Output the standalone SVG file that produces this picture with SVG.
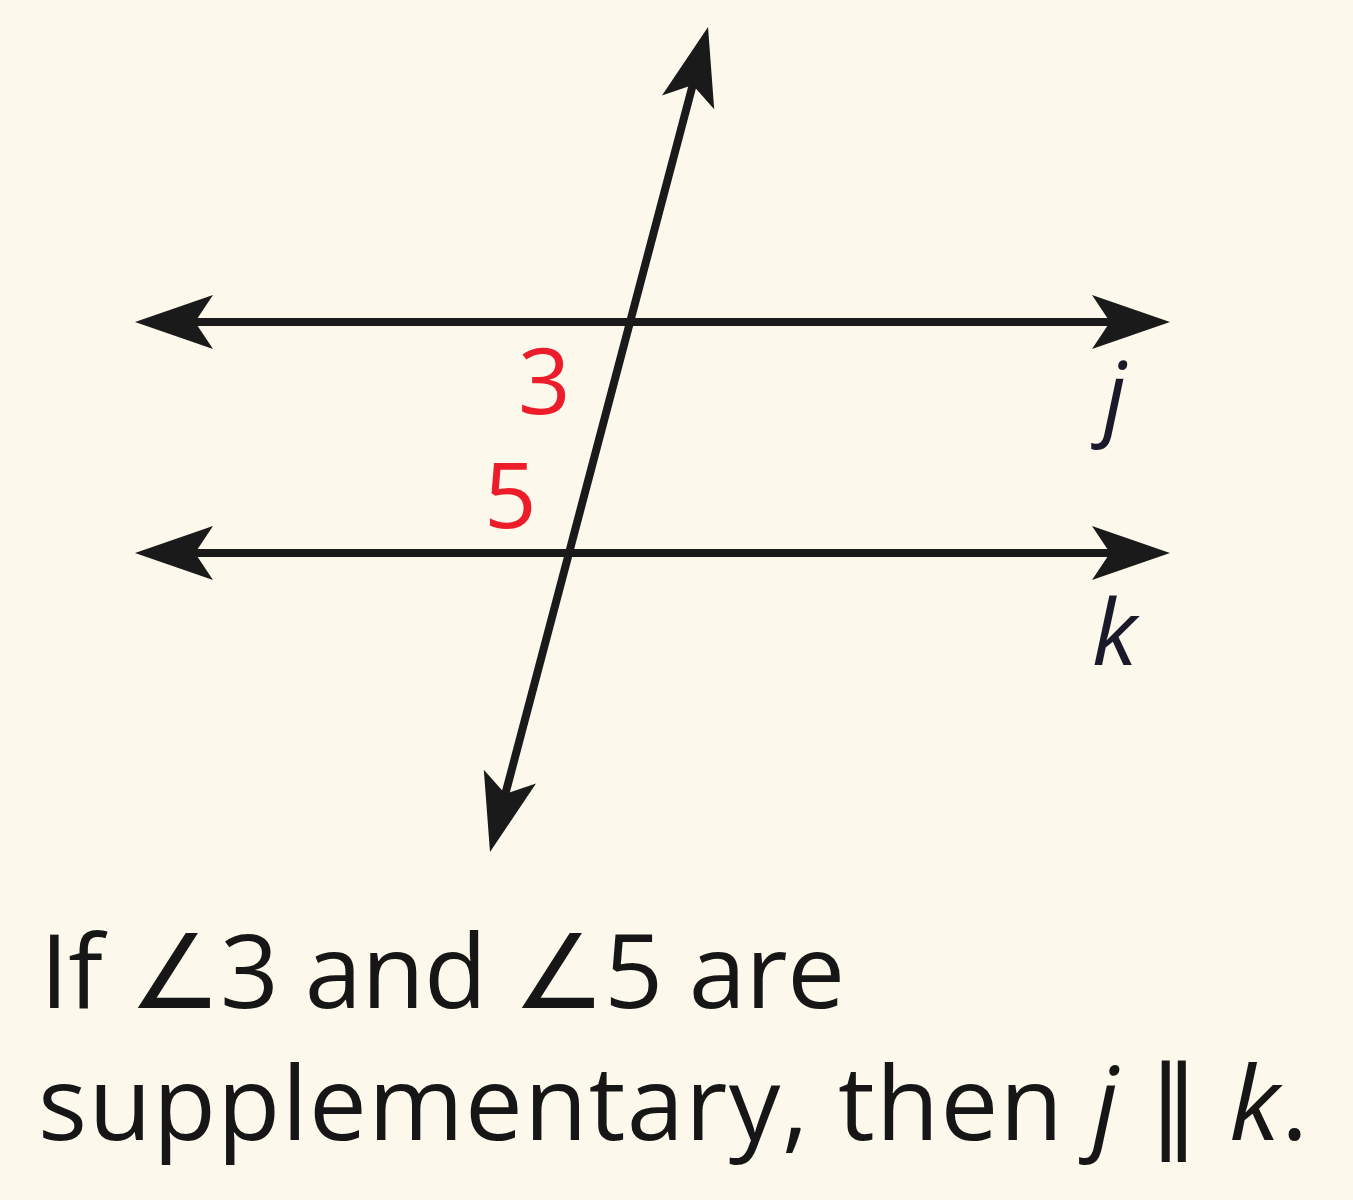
<svg xmlns="http://www.w3.org/2000/svg" width="1353" height="1200" viewBox="0 0 1353 1200">
<style>
.ln{stroke:#1a1a1a;stroke-width:8;fill:none;marker-end:url(#ah);marker-start:url(#ahs)}
.num{font-family:"Open Sans","Noto Sans",sans-serif;font-size:92px;fill:#ec1c2b}
.var{font-family:"Open Sans","Noto Sans",sans-serif;font-size:92px;font-style:italic;fill:#1a1a2a}
.cap{font-family:"Open Sans","Noto Sans",sans-serif;font-size:103px;fill:#161616}
</style>
<defs>
<marker id="ah" markerUnits="userSpaceOnUse" orient="auto" refX="0" refY="0" markerWidth="200" markerHeight="200" viewBox="-100 -100 200 200" overflow="visible">
<path d="M40,0 L-38,-27 L-20,0 L-38,27 Z" fill="#1a1a1a"/>
</marker>
<marker id="ahs" markerUnits="userSpaceOnUse" orient="auto-start-reverse" refX="0" refY="0" markerWidth="200" markerHeight="200" viewBox="-100 -100 200 200" overflow="visible">
<path d="M40,0 L-38,-27 L-20,0 L-38,27 Z" fill="#1a1a1a"/>
</marker>
</defs>
<rect width="1353" height="1200" fill="#fcf8ec"/>
<g id="connectors">
<line id="line-j" class="ln" x1="175" y1="322" x2="1130" y2="322"/>
<line id="line-k" class="ln" x1="175" y1="553" x2="1130" y2="553"/>
<line id="transversal" class="ln" x1="500.2" y1="813.3" x2="697.8" y2="65.7"/>
</g>
<g id="label-3"><text class="num" x="518" y="414">3</text></g>
<g id="label-5"><text class="num" x="484" y="528">5</text></g>
<g id="label-j"><text class="var" x="1103" y="428">j</text></g>
<g id="label-k"><text class="var" x="1092" y="665">k</text></g>
<g id="caption">
<text class="cap" x="40" y="1008" textLength="805" lengthAdjust="spacing">If ∠3 and ∠5 are</text>
<text class="cap" x="38" y="1140" textLength="1270" lengthAdjust="spacing">supplementary, then <tspan font-style="italic">j</tspan> ∥ <tspan font-style="italic">k</tspan>.</text>
</g>
</svg>
